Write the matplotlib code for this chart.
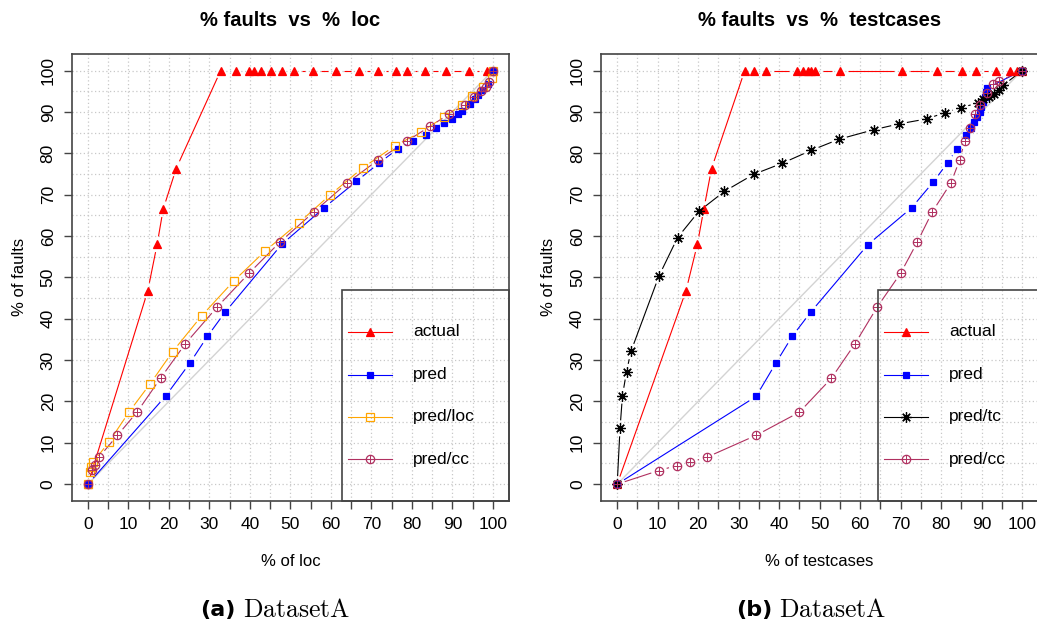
"""Cumulative fault detection curves for DatasetA (loc and testcase effort)."""

import numpy as np
import matplotlib

matplotlib.use("Agg")
import matplotlib.pyplot as plt
from matplotlib.collections import LineCollection
from matplotlib.lines import Line2D
from matplotlib.patches import Rectangle

plt.rcParams["font.family"] = ["Liberation Sans", "DejaVu Sans"]
plt.rcParams["mathtext.fontset"] = "cm"

# ---- % faults vs % loc ----
loc_actual_x = [0, 14.8, 17.1, 18.6, 21.8, 32.8, 36.5, 39.8, 41.1, 42.7, 45.1, 48.0,
                50.8, 55.7, 61.2, 67.0, 71.7, 76.2, 78.7, 83.3, 88.5, 94.1, 98.5, 100]
loc_actual_y = [0, 46.8, 58.0, 66.5, 76.3] + [100] * 19

loc_pred_x = [0, 19.2, 25.2, 29.5, 33.9, 47.9, 58.3, 66.3, 72.0, 76.6, 80.4, 83.4,
              85.9, 88.0, 89.9, 91.3, 92.5, 94.4, 95.6, 96.4, 97.4, 98.7, 100]
loc_pred_y = [0, 21.3, 29.3, 35.7, 41.6, 58.0, 66.8, 73.2, 77.7, 81.1, 83.0, 84.4,
              86.1, 87.3, 88.3, 89.4, 90.3, 91.9, 93.2, 94.0, 95.2, 96.8, 100]

loc_predloc_x = [0, 0.5, 0.8, 1.3, 5.2, 10.2, 15.4, 20.9, 28.1, 36.0, 43.8, 52.1,
                 59.9, 67.9, 75.8, 82.2, 87.9, 92.3, 94.9, 97.7, 99.8, 100]
loc_predloc_y = [0, 3.0, 4.2, 5.3, 10.2, 17.5, 24.3, 32.0, 40.7, 49.1, 56.4, 63.2,
                 70.0, 76.5, 81.8, 85.1, 88.7, 91.7, 93.8, 96.1, 98.2, 100]

loc_predcc_x = [0, 1.1, 1.7, 2.8, 7.3, 12.2, 18.0, 24.1, 31.9, 39.8, 47.5, 55.8,
                64.0, 71.7, 78.7, 84.5, 89.2, 93.2, 95.4, 97.0, 98.3, 99.1, 100]
loc_predcc_y = [0, 3.4, 4.6, 6.6, 11.8, 17.5, 25.7, 34.0, 42.8, 51.0, 58.6, 65.8,
                72.8, 78.4, 82.9, 86.5, 89.5, 91.7, 93.5, 95.0, 96.1, 97.2, 100]

# ---- % faults vs % testcases ----
tc_actual_x = [0, 17.0, 19.8, 21.4, 23.3, 31.5, 33.8, 36.7, 44.3, 45.9, 47.2, 47.9,
               48.8, 55.1, 70.4, 78.9, 85.1, 88.6, 93.6, 96.9, 98.7, 100]
tc_actual_y = [0, 46.8, 58.0, 66.5, 76.3] + [100] * 17

tc_pred_x = [0, 34.3, 39.2, 43.2, 47.8, 61.9, 72.7, 78.1, 81.6, 83.9, 86.2, 87.3,
             88.1, 88.8, 89.5, 89.9, 90.4, 90.8, 91.0, 91.4, 100]
tc_pred_y = [0, 21.2, 29.3, 35.7, 41.6, 57.9, 66.8, 73.1, 77.7, 81.1, 84.3, 86.2,
             87.5, 88.7, 89.9, 91.1, 92.3, 93.5, 94.8, 95.8, 100]

tc_predtc_x = [0, 0.7, 1.3, 2.3, 3.4, 10.3, 14.9, 20.2, 26.5, 33.7, 40.8, 47.9,
               54.8, 63.4, 69.6, 76.4, 80.9, 84.8, 89.2, 90.4, 91.8, 93.1, 94.3, 95.3, 100]
tc_predtc_y = [0, 13.5, 21.4, 27.2, 32.1, 50.3, 59.6, 66.0, 70.8, 74.9, 77.6, 80.7,
               83.4, 85.7, 87.1, 88.3, 89.8, 91.0, 92.2, 93.2, 93.5, 94.4, 95.3, 96.4, 100]

tc_predcc_x = [0, 10.3, 14.7, 18.0, 22.1, 34.3, 45.0, 52.9, 58.7, 64.2, 70.0, 74.1,
               77.8, 82.4, 84.6, 85.8, 87.1, 88.4, 89.6, 91.3, 92.9, 94.3, 100]
tc_predcc_y = [0, 3.3, 4.5, 5.3, 6.5, 11.8, 17.4, 25.6, 33.9, 42.8, 51.0, 58.5,
               65.8, 72.8, 78.4, 82.9, 86.2, 89.5, 91.7, 94.5, 96.8, 97.4, 100]

# line/marker styles per series
STYLES = {
    "actual": dict(color="#FF0000", marker="^", ms=6, mfc="#FF0000"),
    "pred": dict(color="#0000FF", marker="s", ms=5, mfc="#0000FF"),
    "pred/loc": dict(color="#FFA500", marker="s", ms=6, mfc="none"),
    "pred/tc": dict(color="#000000", marker=(8, 2, 0), ms=7.5, mfc="none"),
    "pred/cc": dict(color="#B03060", marker="o", ms=6, mfc="none"),
}

FIG_W, FIG_H = 1037, 630
GAP_PX = 8.0


def gapped_line(ax, x, y, color):
    """Connect points with segments that stop short of each marker."""
    pts = ax.transData.transform(np.column_stack([x, y]))
    inv = ax.transData.inverted()
    segs = []
    for p, q in zip(pts[:-1], pts[1:]):
        d = q - p
        length = np.hypot(*d)
        if length <= 2 * GAP_PX:
            continue
        u = d / length
        a, b = p + u * GAP_PX, q - u * GAP_PX
        segs.append(inv.transform(np.array([a, b])))
    ax.add_collection(LineCollection(segs, colors=color, linewidths=0.8, zorder=3))


def draw_points(ax, x, y, name):
    st = STYLES[name]
    ax.plot(x, y, linestyle="none", marker=st["marker"], markersize=st["ms"],
            markerfacecolor=st["mfc"], markeredgecolor=st["color"],
            markeredgewidth=0.9, zorder=4)
    if name == "pred/cc":
        ax.plot(x, y, linestyle="none", marker="+", markersize=st["ms"],
                markeredgecolor=st["color"], markeredgewidth=0.7, zorder=4)


def draw_series(ax, x, y, name):
    gapped_line(ax, x, y, STYLES[name]["color"])
    draw_points(ax, x, y, name)


def setup_axes(fig, left_px, title, xlabel):
    ax = fig.add_axes([left_px / FIG_W, (FIG_H - 500.7) / FIG_H,
                       437.3 / FIG_W, 446.7 / FIG_H])
    ax.set_xlim(-4, 104)
    ax.set_ylim(-4, 104)

    # dotted reference grid every 5 %
    for v in range(0, 101, 5):
        ax.axhline(v, color="#C8C8C8", lw=0.9, ls=(0, (1, 2)), zorder=1)
        ax.axvline(v, color="#C8C8C8", lw=0.9, ls=(0, (1, 2)), zorder=1)

    # random-ordering diagonal
    ax.plot([0, 100], [0, 100], color="#D3D3D3", lw=1.0, zorder=2)

    xt = list(range(0, 101, 5))
    ax.set_xticks(xt)
    ax.set_xticklabels([str(t) if t % 10 == 0 else "" for t in xt])
    ax.set_yticks(range(0, 101, 10))
    ax.tick_params(direction="out", length=5.5, width=1.0, color="#444444",
                   labelsize=12.5, pad=6)
    for lab in ax.get_yticklabels():
        lab.set_rotation(90)
        lab.set_va("center")

    for sp in ax.spines.values():
        sp.set_color("#444444")
        sp.set_linewidth(1.2)

    ax.set_title(title, fontsize=14.5, fontweight="bold", pad=20)
    ax.set_xlabel(xlabel, fontsize=12, labelpad=16)
    ax.set_ylabel("% of faults", fontsize=12, labelpad=10)
    return ax


def draw_legend(ax, names, box_x0, handle_x0, handle_x1, text_x):
    ax.add_patch(Rectangle((box_x0, 0), 1 - box_x0, 0.4717, transform=ax.transAxes,
                           fill=False, edgecolor="#444444", lw=1.2, zorder=5,
                           clip_on=False))
    rows = [0.3777, 0.2814, 0.188, 0.0927]
    for name, ry in zip(names, rows):
        st = STYLES[name]
        ax.add_line(Line2D([handle_x0, handle_x1], [ry, ry], transform=ax.transAxes,
                           color=st["color"], lw=0.8, zorder=5))
        mid = (handle_x0 + handle_x1) / 2
        ax.add_line(Line2D([mid], [ry], transform=ax.transAxes, linestyle="none",
                           marker=st["marker"], markersize=st["ms"],
                           markerfacecolor=st["mfc"], markeredgecolor=st["color"],
                           markeredgewidth=0.9, zorder=6))
        if name == "pred/cc":
            ax.add_line(Line2D([mid], [ry], transform=ax.transAxes, linestyle="none",
                               marker="+", markersize=st["ms"],
                               markeredgecolor=st["color"], markeredgewidth=0.7,
                               zorder=6))
        ax.text(text_x, ry, name, transform=ax.transAxes, fontsize=12.5,
                va="center", ha="left", zorder=6)


fig = plt.figure(figsize=(FIG_W / 100, FIG_H / 100), dpi=100)

ax1 = setup_axes(fig, 71.7, "% faults  vs  %  loc", "% of loc")
draw_series(ax1, loc_actual_x, loc_actual_y, "actual")
draw_series(ax1, loc_pred_x, loc_pred_y, "pred")
draw_series(ax1, loc_predloc_x, loc_predloc_y, "pred/loc")
draw_series(ax1, loc_predcc_x, loc_predcc_y, "pred/cc")
draw_legend(ax1, ["actual", "pred", "pred/loc", "pred/cc"], 0.618, 0.632, 0.7324, 0.780)

ax2 = setup_axes(fig, 601.0, "% faults  vs  %  testcases", "% of testcases")
draw_series(ax2, tc_actual_x, tc_actual_y, "actual")
draw_series(ax2, tc_pred_x, tc_pred_y, "pred")
draw_series(ax2, tc_predtc_x, tc_predtc_y, "pred/tc")
draw_series(ax2, tc_predcc_x, tc_predcc_y, "pred/cc")
draw_legend(ax2, ["actual", "pred", "pred/tc", "pred/cc"], 0.634, 0.647, 0.748, 0.796)

# sub-figure captions
for cx, tag in [(236, "(a)"), (772, "(b)")]:
    fig.text(cx / FIG_W, 1 - 610 / FIG_H, tag, fontsize=16, fontweight="bold",
             family=["DejaVu Sans"], ha="right", va="center")
    fig.text((cx + 7) / FIG_W, 1 - 610 / FIG_H, r"$\mathrm{DatasetA}$", fontsize=18.5,
             ha="left", va="center")

fig.savefig("out.png", dpi=100)
